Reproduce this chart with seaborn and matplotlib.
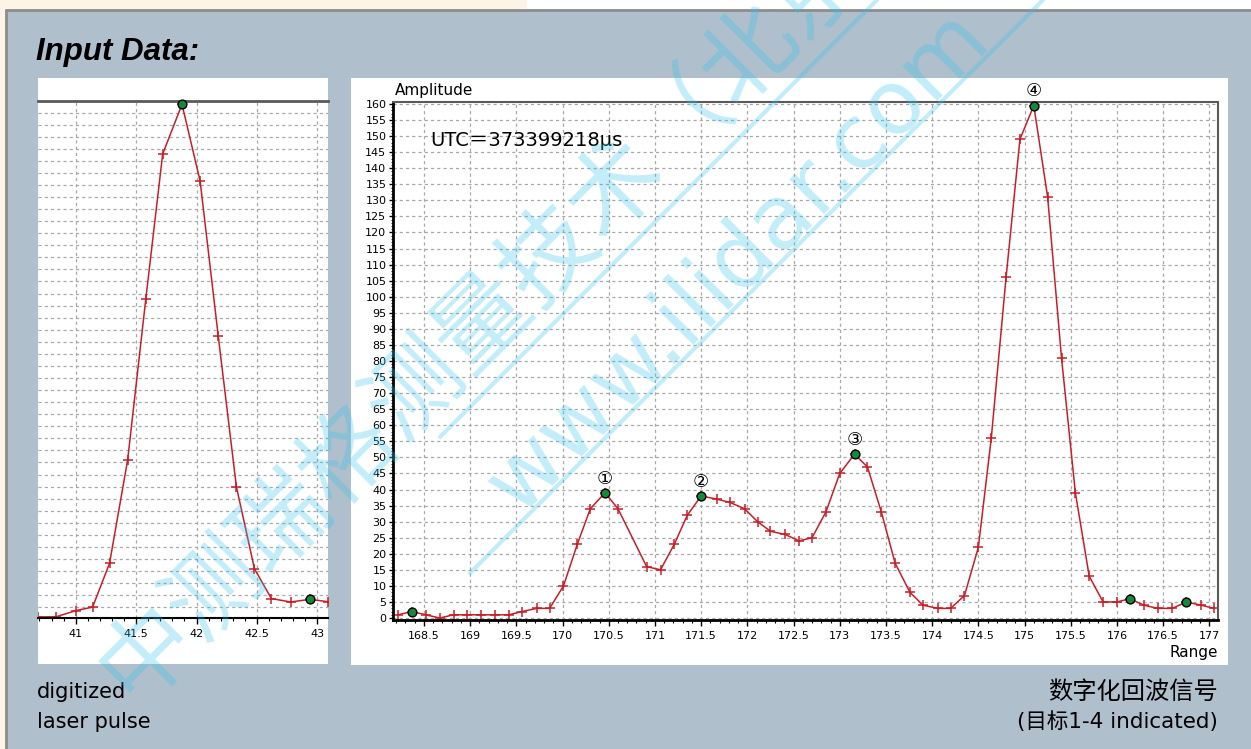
import matplotlib
matplotlib.use("Agg")
import matplotlib.pyplot as plt
from matplotlib.patches import Rectangle
from matplotlib.ticker import MultipleLocator
import seaborn as sns

sns.set_style("white")
plt.rcParams['font.family'] = ['DejaVu Sans', 'Noto Sans CJK SC']
plt.rcParams['text.color'] = 'black'
plt.rcParams['xtick.color'] = 'black'
plt.rcParams['ytick.color'] = 'black'

# ---- data: digitized laser pulse (left) ----
pulse_x = [40.69, 40.84, 41.0, 41.14, 41.28, 41.43, 41.58, 41.72, 41.88,
           42.03, 42.18, 42.33, 42.48, 42.62, 42.78, 42.94, 43.09]
pulse_y = [-4, -3.9, -1.4, 0.1, 18.2, 61, 127.6, 187.8, 208.4,
           176.6, 112.4, 50, 15.9, 3.6, 2.2, 3.3, 2.3]
pulse_peak_x = [41.88, 42.94]
pulse_peak_y = [208.4, 3.3]

# ---- data: digitized echo waveform (right) ----
echo_x = [168.22, 168.37, 168.52, 168.67, 168.82, 168.97, 169.12, 169.27, 169.42,
          169.56, 169.72, 169.86, 170.01, 170.16, 170.30, 170.46, 170.60,
          170.91, 171.06, 171.21, 171.35, 171.50, 171.67, 171.81, 171.97, 172.11,
          172.25, 172.41, 172.56, 172.70, 172.85, 173.00, 173.16, 173.30, 173.45,
          173.60, 173.76, 173.90, 174.06, 174.20, 174.35, 174.50, 174.64, 174.80,
          174.95, 175.10, 175.25, 175.40, 175.55, 175.70, 175.85, 176.00, 176.14,
          176.29, 176.44, 176.60, 176.75, 176.91, 177.05]
echo_y = [1, 2, 1, 0, 1, 1, 1, 1, 1, 2, 3, 3, 10, 23, 34, 39, 34,
          16, 15, 23, 32, 38, 37, 36, 34, 30, 27, 26, 24,
          25, 33, 45, 51, 47, 33, 17, 8, 4, 3, 3, 7, 22, 56,
          106, 149, 159.5, 131, 81, 39, 13, 5, 5, 6, 4, 3, 3, 5, 4, 3]
peak_x = [168.37, 170.46, 171.50, 173.16, 175.10, 176.14, 176.75]
peak_y = [2, 39, 38, 51, 159.5, 6, 5]
target_x = [170.46, 171.50, 173.16, 175.10]
target_y = [39, 38, 51, 159.5]
target_lbl = ['①', '②', '③', '④']

W, H = 1251, 749
RED = '#c81e28'
GREEN = '#128a3a'
GRID = dict(color='#a8a8a8', linestyle=(0, (2.5, 2.5)), linewidth=0.9)


def frac(x0, y0, x1, y1):
    return [x0 / W, 1 - y1 / H, (x1 - x0) / W, (y1 - y0) / H]


fig = plt.figure(figsize=(W / 100, H / 100), dpi=100, facecolor='#fdf4e7')

# background / frame in pixel coordinates
bg = fig.add_axes([0, 0, 1, 1], zorder=0)
bg.set_xlim(0, W)
bg.set_ylim(H, 0)
bg.axis('off')
bg.add_patch(Rectangle((527, 0), W - 527, 10, fc='white', ec='none'))
bg.add_patch(Rectangle((6, 10), W - 6, H - 10, fc='#b0bfcc', ec='none'))
bg.plot([6, W], [10, 10], color='#8c8c8c', lw=2)
bg.plot([6, 6], [10, H], color='#8c8c8c', lw=2)
bg.add_patch(Rectangle((38, 78), 289.7, 586.3, fc='white', ec='none'))
bg.add_patch(Rectangle((351, 78), 876.7, 587, fc='white', ec='none'))

bg.text(36, 52, 'Input Data:', fontsize=22.5, fontweight='bold', fontstyle='italic',
        family='Liberation Sans', va='center', ha='left')
bg.text(395, 91, 'Amplitude', fontsize=11, va='center', ha='left')
bg.text(1218, 653, 'Range', fontsize=11, va='center', ha='right')
bg.text(37, 692, 'digitized', fontsize=15, va='center', ha='left')
bg.text(37, 722, 'laser pulse', fontsize=15, va='center', ha='left')
bg.text(1218, 692, '数字化回波信号', fontsize=17.5, va='center', ha='right',
        family=['Noto Sans CJK SC', 'DejaVu Sans'])
bg.text(1218, 722, '(目标1-4 indicated)', fontsize=15.5, va='center', ha='right',
        family=['DejaVu Sans', 'Noto Sans CJK SC'])

# ---- left chart ----
axL = fig.add_axes(frac(38, 100.7, 327.7, 618.3), zorder=2)
axL.set_facecolor('none')
sns.lineplot(x=pulse_x, y=pulse_y, ax=axL, color=RED, lw=1.1, marker='+',
             markersize=7.5, markeredgewidth=1.1, markeredgecolor=RED,
             sort=False, estimator=None)
sns.scatterplot(x=pulse_peak_x, y=pulse_peak_y, ax=axL, color=GREEN, s=40,
                edgecolor='black', linewidth=1, zorder=5, clip_on=False)
axL.set_xlim(40.688, 43.086)
axL.set_ylim(-4.56, 209.9)
axL.xaxis.set_minor_locator(MultipleLocator(0.1))
axL.yaxis.set_major_locator(MultipleLocator(5))
axL.set_xticks([41, 41.5, 42, 42.5, 43])
axL.set_xticklabels(['41', '41.5', '42', '42.5', '43'])
axL.tick_params(axis='x', which='major', direction='out', length=4, width=1,
                labelsize=8, pad=4, bottom=True)
axL.tick_params(axis='x', which='minor', direction='out', length=2, width=0.8,
                bottom=True)
axL.tick_params(axis='y', which='both', left=False, labelleft=False)
axL.grid(True, which='major', **GRID)
for s in ['left', 'right']:
    axL.spines[s].set_visible(False)
axL.spines['top'].set_color('#5a5a5a')
axL.spines['top'].set_linewidth(2)
axL.spines['bottom'].set_color('black')
axL.spines['bottom'].set_linewidth(1.5)
axL.set_xlabel('')
axL.set_ylabel('')

# ---- right chart ----
axR = fig.add_axes(frac(393.3, 102, 1218.3, 620), zorder=2)
axR.set_facecolor('none')
sns.lineplot(x=echo_x, y=echo_y, ax=axR, color=RED, lw=1.1, marker='+',
             markersize=7.5, markeredgewidth=1.1, markeredgecolor=RED,
             sort=False, estimator=None)
sns.scatterplot(x=peak_x, y=peak_y, ax=axR, color=GREEN, s=40,
                edgecolor='black', linewidth=1, zorder=5, clip_on=False)
for tx, ty, lbl in zip(target_x, target_y, target_lbl):
    axR.text(tx, ty + 4.4, lbl, fontsize=13, ha='center', va='center')
axR.text(168.565, 148.6, 'UTC＝373399218μs', fontsize=14, ha='left', va='center')
axR.set_xlim(168.168, 177.097)
axR.set_ylim(-0.62, 160.62)
axR.xaxis.set_minor_locator(MultipleLocator(0.1))
axR.yaxis.set_minor_locator(MultipleLocator(1))
axR.set_xticks([168.5 + 0.5 * i for i in range(18)])
axR.set_xticklabels([('%g' % (168.5 + 0.5 * i)) for i in range(18)])
axR.set_yticks(list(range(0, 161, 5)))
axR.set_yticklabels([str(v) for v in range(0, 161, 5)])
axR.tick_params(axis='x', which='major', direction='out', length=4, width=1,
                labelsize=8, pad=4, bottom=True)
axR.tick_params(axis='x', which='minor', direction='out', length=2, width=0.8,
                bottom=True)
axR.tick_params(axis='y', which='major', direction='out', length=3, width=1,
                labelsize=8, pad=2, left=True)
axR.tick_params(axis='y', which='minor', direction='out', length=1.5, width=0.6,
                left=True)
axR.grid(True, which='major', **GRID)
axR.spines['left'].set_color('black')
axR.spines['left'].set_linewidth(2)
axR.spines['bottom'].set_color('black')
axR.spines['bottom'].set_linewidth(2)
for s in ['top', 'right']:
    axR.spines[s].set_color('#5a5a5a')
    axR.spines[s].set_linewidth(1.5)
axR.set_xlabel('')
axR.set_ylabel('')

# ---- watermark overlay ----
wm = fig.add_axes([0, 0, 1, 1], zorder=10)
wm.set_xlim(0, W)
wm.set_ylim(H, 0)
wm.axis('off')
wm.patch.set_alpha(0)
WMC = '#33c3ee'
wm.text(515, 285, '中测瑞格测量技术（北京）', fontsize=68,
        rotation=45, rotation_mode='anchor', ha='center', va='center',
        color=WMC, alpha=0.3, family=['Noto Sans CJK SC', 'DejaVu Sans'])
wm.text(738, 262, 'www.ilidar.com', fontsize=64, rotation=45,
        rotation_mode='anchor', ha='center', va='center', color=WMC, alpha=0.3)
wm.plot([440, 877], [437, 0], color=WMC, alpha=0.3, lw=3)
wm.plot([470, 1043], [573, 0], color=WMC, alpha=0.3, lw=3)

fig.savefig('out.png', dpi=100, facecolor=fig.get_facecolor())
